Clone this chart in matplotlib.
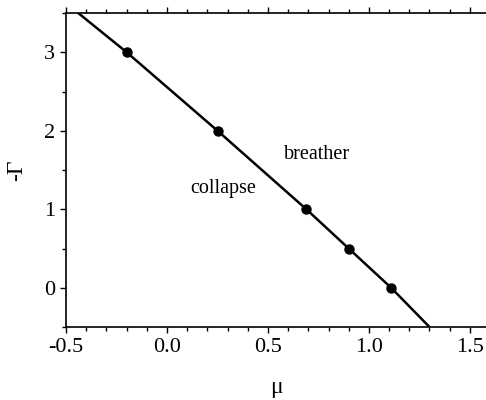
import matplotlib
matplotlib.use('Agg')
import matplotlib.pyplot as plt
from matplotlib.ticker import MultipleLocator

# data points
mu_pts = [-0.20, 0.25, 0.69, 0.90, 1.11]
gamma_pts = [3.0, 2.0, 1.0, 0.5, 0.0]
# boundary curve (passes through the points, runs out to the frame)
line_mu = [-0.44, -0.20, 0.25, 0.69, 0.90, 1.11, 1.30]
line_gamma = [3.5, 3.0, 2.0, 1.0, 0.5, 0.0, -0.5]

plt.rcParams['font.family'] = ['Liberation Serif', 'DejaVu Serif']
plt.rcParams['axes.unicode_minus'] = False

fig = plt.figure(figsize=(4.86, 4.0), dpi=100)
ax = fig.add_axes([0.136, 0.1825, 0.864, 0.785])
ax.plot(line_mu, line_gamma, color='black', lw=1.8)
ax.plot(mu_pts, gamma_pts, 'o', color='black', ms=6.5)

ax.text(0.745, 1.7, 'breather', fontsize=14.5, ha='center', va='center')
ax.text(0.28, 1.26, 'collapse', fontsize=14.5, ha='center', va='center')

ax.set_xlim(-0.5, 1.58)
ax.set_ylim(-0.5, 3.5)
ax.xaxis.set_major_locator(MultipleLocator(0.5))
ax.xaxis.set_minor_locator(MultipleLocator(0.1))
ax.yaxis.set_major_locator(MultipleLocator(1))
ax.yaxis.set_minor_locator(MultipleLocator(0.5))
ax.xaxis.set_major_formatter(plt.FuncFormatter(lambda v, p: '%.1f' % v))
ax.tick_params(which='both', direction='out', top=True, right=False, labelsize=16, width=1)
ax.tick_params(which='major', length=4.5)
ax.tick_params(which='minor', length=3)
ax.spines['right'].set_visible(False)
for s in ['left', 'bottom', 'top']:
    ax.spines[s].set_linewidth(1.2)

ax.set_xlabel('μ', fontsize=17, labelpad=14)
ax.set_ylabel('-Γ', fontsize=17, labelpad=12)

fig.savefig('out.png', dpi=100)
